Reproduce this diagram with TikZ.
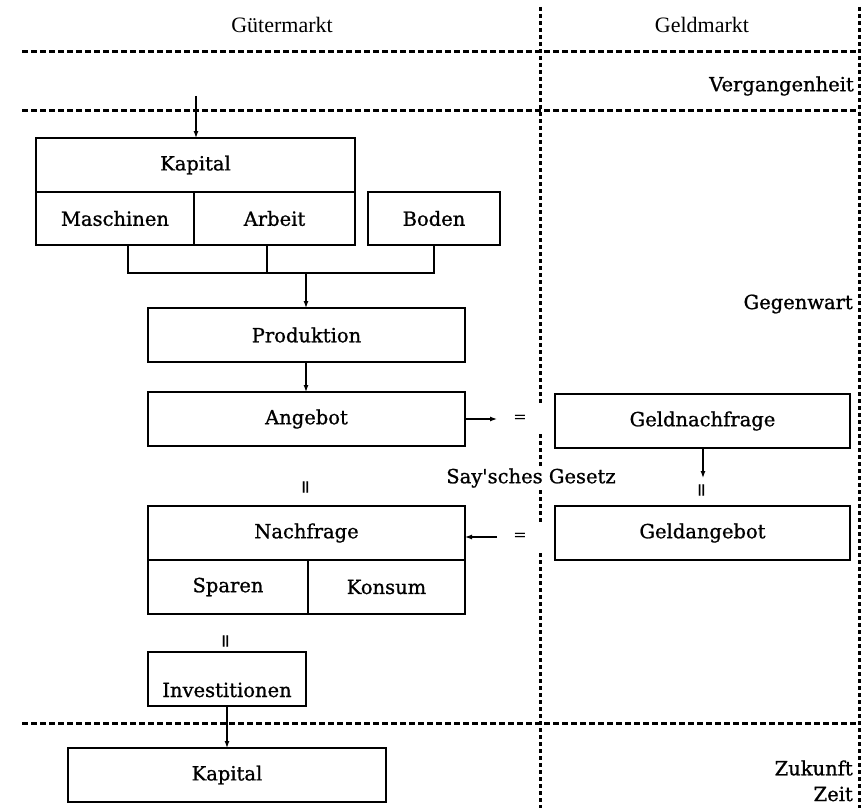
\documentclass[tikz,border=0pt]{standalone}
\usepackage{fontspec}
\setmainfont{DejaVu Serif}
\newfontfamily\boxfont{DejaVu Serif}[FakeBold=1.0]
\newfontfamily\hdrfont{Liberation Serif}
\usetikzlibrary{arrows.meta}
\begin{document}
\begin{tikzpicture}[x=1pt,y=-1pt,
  box/.style={draw,line width=1.4pt,inner sep=0pt,outer sep=0pt,anchor=north west,font=\boxfont\fontsize{19.5}{22}\selectfont},
  hsep/.style={line width=3pt,dash pattern=on 6pt off 3pt},
  vsep/.style={line width=3pt,dash pattern=on 4pt off 3pt},
  arr/.style={line width=1.2pt,-{Latex[length=7pt,width=5pt]}},
  conn/.style={line width=1.4pt},
  lbl/.style={font=\boxfont\fontsize{19.5}{22}\selectfont,inner sep=1pt},
  hdr/.style={font=\hdrfont\fontsize{22}{24}\selectfont},
  eq/.style={font=\fontsize{16}{17}\selectfont,fill=white,minimum width=46pt,minimum height=30pt,inner sep=0pt},
  veq/.style={font=\boxfont\fontsize{18}{19}\selectfont,rotate=90,inner sep=0pt}
]
\useasboundingbox (0,0) rectangle (863,808);
% separators
\draw[hsep] (22,52) -- (859,52);
\draw[hsep] (22,111) -- (859,111);
\draw[hsep] (22,723) -- (859,723);
\draw[vsep] (540,7) -- (540,808);
\draw[vsep] (859,7) -- (859,808);
% headers
\node[hdr] (gm) at (282,25) {Gütermarkt};
\node[hdr] (gd) at (702,25) {Geldmarkt};
\node[lbl,anchor=east] (verg) at (855,86) {Vergangenheit};
\node[lbl,anchor=east] (gegw) at (854,304) {Gegenwart};
\node[lbl,anchor=east] (zuk) at (854,768) {Zukunft};
\node[lbl,anchor=east] (zeit) at (854,794) {Zeit};
% boxes
\node[box,minimum width=319pt,minimum height=54pt] (kap) at (36,138) {Kapital};
\node[box,minimum width=158pt,minimum height=53pt] (masch) at (36,192) {Maschinen};
\node[box,minimum width=161pt,minimum height=53pt] (arb) at (194,192) {Arbeit};
\node[box,minimum width=132pt,minimum height=53pt] (bod) at (368,192) {Boden};
\node[box,minimum width=317pt,minimum height=54pt] (prod) at (148,308) {Produktion};
\node[box,minimum width=317pt,minimum height=54pt] (ang) at (148,392) {Angebot};
\node[box,minimum width=295pt,minimum height=54pt] (gnf) at (555,394) {Geldnachfrage};
\node[box,minimum width=295pt,minimum height=54pt] (gang) at (555,506) {Geldangebot};
\node[box,minimum width=317pt,minimum height=54pt] (nf) at (148,506) {Nachfrage};
\node[box,minimum width=160pt,minimum height=54pt] (spar) at (148,560) {Sparen};
\node[box,minimum width=157pt,minimum height=54pt] (kons) at (308,560) {Konsum};
\node[box,minimum width=158pt,minimum height=54pt] (inv) at (148,652) {\raisebox{-18pt}[0pt][0pt]{Investitionen}};
\node[box,minimum width=318pt,minimum height=54pt] (kap2) at (68,748) {Kapital};
% labels
\node[eq] (eq1) at (520,419) {=};
\node[eq] (eq2) at (520,537) {=};
\node[lbl,fill=white,inner sep=2pt] (say) at (531,478) {Say\textquotesingle sches Gesetz};
\node[veq] (veq1) at (307,487) {=};
\node[veq] (veq2) at (227,641) {=};
\node[veq] (veq3) at (703,490) {=};
% connectors
\coordinate (top) at (196,96);
\draw[arr] (top) -- (top |- kap.north);
\coordinate (j1) at (128,273);
\coordinate (j2) at (267,273);
\coordinate (j3) at (434,273);
\coordinate (jm) at (306,273);
\draw[conn] (j1 |- masch.south) -- (j1) -- (j3) -- (j3 |- bod.south);
\draw[conn] (j2 |- arb.south) -- (j2);
\draw[arr] (jm) -- (jm |- prod.north);
\draw[arr] (jm |- prod.south) -- (jm |- ang.north);
\coordinate (a1) at (497,419);
\draw[arr] (ang.east |- a1) -- (a1);
\coordinate (a2) at (497,537);
\draw[arr] (a2) -- (nf.east |- a2);
\coordinate (a3) at (703,478);
\draw[arr] (a3 |- gnf.south) -- (a3);
\coordinate (a4) at (227,748);
\draw[arr] (a4 |- inv.south) -- (a4 |- kap2.north);
\end{tikzpicture}
\end{document}
